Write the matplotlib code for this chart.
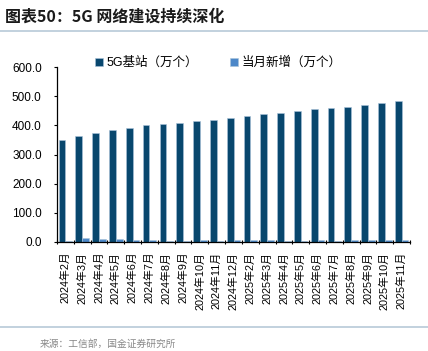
import matplotlib
matplotlib.use("Agg")
import matplotlib.pyplot as plt
from matplotlib.lines import Line2D
import numpy as np

plt.rcParams['font.family'] = ['Liberation Sans', 'Noto Sans CJK SC', 'DejaVu Sans']

# 数据
months = ["2024年2月", "2024年3月", "2024年4月", "2024年5月", "2024年6月", "2024年7月",
          "2024年8月", "2024年9月", "2024年10月", "2024年11月", "2024年12月",
          "2025年2月", "2025年3月", "2025年4月", "2025年5月", "2025年6月", "2025年7月",
          "2025年8月", "2025年9月", "2025年10月", "2025年11月"]
base_total = [350.9, 364.7, 374.8, 383.7, 391.7, 399.6, 404.2, 408.9, 414.1, 419.1, 425.1,
              432.5, 439.5, 443.6, 448.6, 454.9, 459.1, 464.5, 470.5, 475.8, 483.8]
monthly_new = [3.2, 13.8, 10.1, 8.9, 8.0, 7.9, 4.6, 4.7, 5.2, 5.0, 6.0,
               7.4, 7.0, 4.1, 5.0, 6.3, 4.2, 5.4, 6.0, 5.3, 8.0]
label_total = "5G基站（万个）"
label_new = "当月新增（万个）"

dark = "#08476E"
light = "#4C87C8"

fig = plt.figure(figsize=(4.28, 3.51), dpi=100)
ax = fig.add_axes([57 / 428, 1 - 242 / 351, 353 / 428, 175 / 351])

x = np.arange(len(months))
w = 0.4
ax.bar(x - w / 2, base_total, width=w, color=dark, edgecolor="#A9C4DA", linewidth=0.4,
       label=label_total)
ax.bar(x + w / 2, monthly_new, width=w, color=light, edgecolor="#A9C4DA", linewidth=0.4,
       label=label_new)

ax.set_xlim(-0.5, len(months) - 0.5)
ax.set_ylim(0, 600)
ax.set_yticks(np.arange(0, 601, 100))
ax.set_yticklabels([f"{v:.1f}" for v in np.arange(0, 601, 100)], fontsize=8.5)
ax.set_xticks(x)
ax.set_xticklabels(months, rotation=90, fontsize=7.8)
ax.set_xticks(np.arange(-0.5, len(months), 1), minor=True)
ax.tick_params(axis='x', which='major', length=0, pad=7)
ax.tick_params(axis='x', which='minor', length=2.5, width=0.8, direction='inout')
ax.tick_params(axis='y', length=2, width=0.8, pad=9)

for s in ['top', 'right']:
    ax.spines[s].set_visible(False)
for s in ['left', 'bottom']:
    ax.spines[s].set_linewidth(0.9)
    ax.spines[s].set_color("black")

fig.legend(loc='center left', bbox_to_anchor=(95 / 428, 1 - 63 / 351), ncol=2, frameon=False,
           fontsize=9, handlelength=0.6, handleheight=0.6, handletextpad=0.3,
           columnspacing=2.6, borderaxespad=0, borderpad=0)

# 标题和分隔线
fig.text(5 / 428, 1 - 17 / 351, "图表50：5G 网络建设持续深化", fontsize=11.5, fontweight='bold',
         color="#1a1a1a", family=['Noto Sans CJK SC'], va='center', ha='left', style='italic')
fig.add_artist(Line2D([0, 1], [1 - 31 / 351, 1 - 31 / 351], color="#B7C9D8", linewidth=1.2,
                      transform=fig.transFigure))
fig.add_artist(Line2D([0, 1], [1 - 327 / 351, 1 - 327 / 351], color="#B7C9D8", linewidth=1.2,
                      transform=fig.transFigure))
fig.text(40 / 428, 1 - 344 / 351, "来源：工信部，国金证券研究所", fontsize=7, color="#888888",
         family=['Noto Sans CJK SC'], va='center', ha='left')

fig.savefig("out.png", dpi=100)
